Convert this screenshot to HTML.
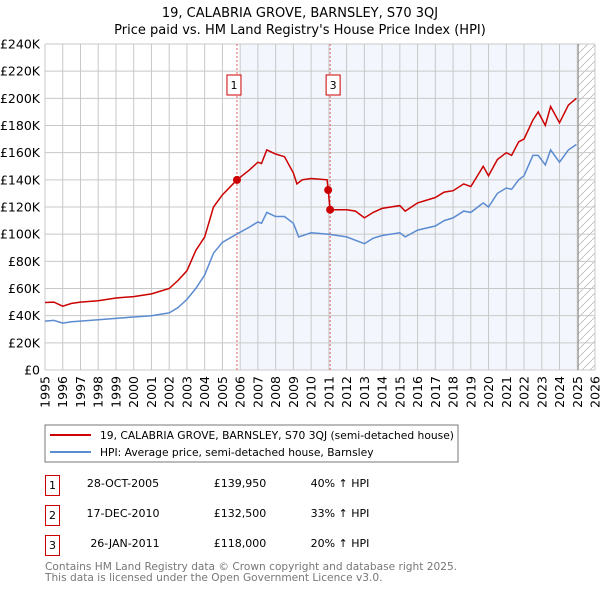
<!DOCTYPE html>
<html><head><meta charset="utf-8"><style>
body{margin:0;background:#fff;font-family:"Liberation Sans","DejaVu Sans",sans-serif;}
svg{display:block}
</style></head><body>
<svg width="600" height="590" viewBox="0 0 600 590" xmlns="http://www.w3.org/2000/svg" font-family="'DejaVu Sans','Liberation Sans',sans-serif">
<text x="300" y="17" text-anchor="middle" font-size="13" fill="#000">19, CALABRIA GROVE, BARNSLEY, S70 3QJ</text>
<text x="300" y="34" text-anchor="middle" font-size="13" fill="#000">Price paid vs. HM Land Registry's House Price Index (HPI)</text>
<g id="plot"></g>
<rect x="45" y="425" width="413" height="37" fill="#fff" stroke="#777"/>
<line x1="50" y1="435" x2="91" y2="435" stroke="#cc0000" stroke-width="2"/>
<text x="100" y="439" font-size="10.7">19, CALABRIA GROVE, BARNSLEY, S70 3QJ (semi-detached house)</text>
<line x1="50" y1="452" x2="91" y2="452" stroke="#5b8bd0" stroke-width="2"/>
<text x="100" y="456" font-size="10.7">HPI: Average price, semi-detached house, Barnsley</text>
<g font-size="11">
<rect x="45.5" y="475.5" width="14" height="20" fill="none" stroke="#cc0000"/>
<text x="52.5" y="489" text-anchor="middle">1</text>
<text x="123" y="487" text-anchor="middle">28-OCT-2005</text>
<text x="240" y="487" text-anchor="middle">£139,950</text>
<text x="340" y="487" text-anchor="middle">40% ↑ HPI</text>
<rect x="45.5" y="505.5" width="14" height="20" fill="none" stroke="#cc0000"/>
<text x="52.5" y="519" text-anchor="middle">2</text>
<text x="123" y="517" text-anchor="middle">17-DEC-2010</text>
<text x="240" y="517" text-anchor="middle">£132,500</text>
<text x="340" y="517" text-anchor="middle">33% ↑ HPI</text>
<rect x="45.5" y="535.5" width="14" height="20" fill="none" stroke="#cc0000"/>
<text x="52.5" y="549" text-anchor="middle">3</text>
<text x="125" y="547" text-anchor="middle">26-JAN-2011</text>
<text x="240" y="547" text-anchor="middle">£118,000</text>
<text x="340" y="547" text-anchor="middle">20% ↑ HPI</text>
</g>
<text x="45" y="570" font-size="10.6" fill="#777">Contains HM Land Registry data © Crown copyright and database right 2025.</text>
<text x="45" y="581" font-size="10.6" fill="#777">This data is licensed under the Open Government Licence v3.0.</text>
</svg>
<script>
const hpiYears=[1995,1995.5,1996,1996.5,1997,1998,1999,2000,2001,2002,2002.5,2003,2003.5,2004,2004.5,2005,2005.8,2006.5,2007,2007.2,2007.5,2008,2008.5,2009,2009.3,2010,2011,2012,2013,2013.5,2014,2015,2015.3,2016,2017,2017.5,2018,2018.6,2019,2019.7,2020,2020.5,2021,2021.3,2021.7,2022,2022.5,2022.8,2023.2,2023.5,2024,2024.5,2024.95];
const hpiValues=[36,36.5,34.5,35.5,36,37,38,39,40,42,46,52,60,70,86,94,100,105,109,108,116,113,113,108,98,101,100,98,93,97,99,101,98,103,106,110,112,117,116,123,120,130,134,133,140,143,158,158,151,162,153,162,166];
const propYears=[1995,1995.5,1996,1996.5,1997,1998,1999,2000,2001,2002,2002.5,2003,2003.5,2004,2004.5,2005,2005.82,2006.5,2007,2007.2,2007.5,2008,2008.5,2009,2009.2,2009.5,2010,2010.9,2010.96,2011.07,2012,2012.5,2013,2013.5,2014,2015,2015.3,2016,2017,2017.5,2018,2018.6,2019,2019.7,2020,2020.5,2021,2021.3,2021.7,2022,2022.5,2022.8,2023.2,2023.5,2024,2024.5,2024.95];
const propValues=[49.7,50,47,49,50,51,53,54,56,60,66,73,88,98,120,129,140,147,153,152,162,159,157,145,137,140,141,140,132.5,118,118,117,112,116,119,121,117,123,127,131,132,137,135,150,143,155,160,158,168,170,184,190,180,194,182,195,200];
const saleYears=[2005.82,2010.96,2011.07];
const saleValues=[139.95,132.5,118];
const saleLabels=["1","2","3"];
const yTicks=[0,20,40,60,80,100,120,140,160,180,200,220,240];
const xTicks=[1995,1996,1997,1998,1999,2000,2001,2002,2003,2004,2005,2006,2007,2008,2009,2010,2011,2012,2013,2014,2015,2016,2017,2018,2019,2020,2021,2022,2023,2024,2025,2026];
const X0=45,X1=595,Y0=370,Y1=44;
function sx(y){return X0+(y-1995)/31*(X1-X0);}
function sy(v){return Y0-v/240*(Y0-Y1);}
const NS="http://www.w3.org/2000/svg";
const g=document.getElementById('plot');
function mk(tag,attrs,parent){const e=document.createElementNS(NS,tag);for(const k in attrs)e.setAttribute(k,attrs[k]);(parent||g).appendChild(e);return e;}
let e=mk('rect',{x:sx(2006),y:Y1,width:sx(2025.05)-sx(2006),height:Y0-Y1,fill:'#eef3fc',opacity:0.7});


const defs=mk('defs',{});
const pat=mk('pattern',{id:'hatch',width:8,height:8,patternUnits:'userSpaceOnUse'},defs);
mk('path',{d:'M0,8 L8,0',stroke:'#bbb','stroke-width':0.8},pat);
e=mk('rect',{x:sx(2025.05),y:Y1,width:X1-sx(2025.05),height:Y0-Y1,fill:'url(#hatch)'});


yTicks.forEach(v=>{
 let l=mk('line',{x1:X0,x2:X1,y1:sy(v),y2:sy(v),stroke:'#c8c8c8'});
 
 
 let t=mk('text',{x:40,y:sy(v)+4.5,'text-anchor':'end','font-size':12.5,fill:'#000'});
 t.textContent=v===0?'£0':'£'+v+'K';
 
 
});
xTicks.forEach(y=>{
 let l=mk('line',{x1:sx(y),x2:sx(y),y1:Y1,y2:Y0,stroke:'#c8c8c8'});
 
 
 let t=mk('text',{x:0,y:0,'text-anchor':'end','font-size':12.5,fill:'#000',transform:'translate('+(sx(y)+4.5)+','+(Y0+6)+') rotate(-90)'});
 t.textContent=y;
 
 
});
e=mk('line',{x1:sx(2025.05),x2:sx(2025.05),y1:Y1,y2:Y0,stroke:'#888','stroke-width':1});


saleYears.forEach((y,i)=>{
 if(i===1)return;
 let l=mk('line',{x1:sx(y),x2:sx(y),y1:Y1,y2:Y0,stroke:'#e06060','stroke-dasharray':'2,2'});
 
 
});
function path(xs,vs){return xs.map((x,i)=>(i?'L':'M')+sx(x).toFixed(1)+','+sy(vs[i]).toFixed(1)).join(' ');}
e=mk('path',{d:path(hpiYears,hpiValues),fill:'none',stroke:'#5b8bd0','stroke-width':1.5});


e=mk('path',{d:path(propYears,propValues),fill:'none',stroke:'#cc0000','stroke-width':1.5});


saleYears.forEach((y,i)=>{
 let c=mk('circle',{cx:sx(y),cy:sy(saleValues[i]),r:4,fill:'#cc0000'});
 
 
});
[0,2].forEach(i=>{
 const cx=sx(saleYears[i])-(i===0?3:-3);
 let r=mk('rect',{x:cx-7,y:75,width:14,height:20,fill:'#fff',stroke:'#cc0000'});
 
 
 let t=mk('text',{x:cx,y:89,'text-anchor':'middle','font-size':11});
 t.textContent=saleLabels[i];
 
 
});
</script>
</body></html>
